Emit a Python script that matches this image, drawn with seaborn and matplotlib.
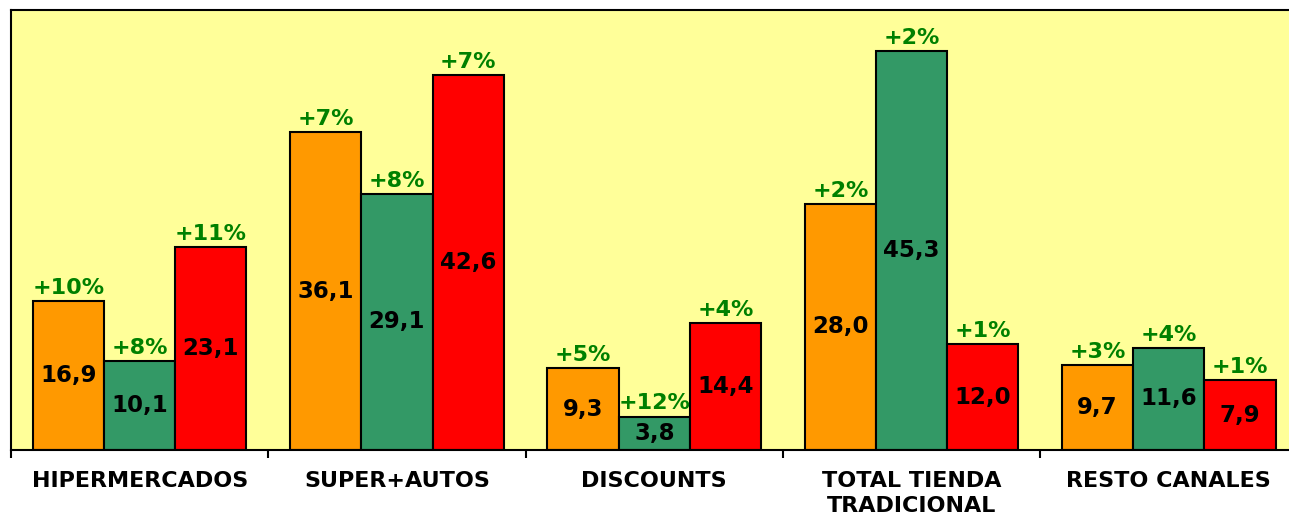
import pandas as pd
import matplotlib
matplotlib.use("Agg")
import matplotlib.pyplot as plt
import seaborn as sns

# Data
categories = ['HIPERMERCADOS', 'SUPER+AUTOS', 'DISCOUNTS', 'TOTAL TIENDA\nTRADICIONAL', 'RESTO CANALES']
series = ['Serie 1', 'Serie 2', 'Serie 3']
values_s1 = [16.9, 36.1, 9.3, 28.0, 9.7]
values_s2 = [10.1, 29.1, 3.8, 45.3, 11.6]
values_s3 = [23.1, 42.6, 14.4, 12.0, 7.9]
growth_s1 = ['+10%', '+7%', '+5%', '+2%', '+3%']
growth_s2 = ['+8%', '+8%', '+12%', '+2%', '+4%']
growth_s3 = ['+11%', '+7%', '+4%', '+1%', '+1%']

colors = ['#FF9900', '#339966', '#FF0000']

df = pd.DataFrame({
    'Canal': categories * 3,
    'Serie': [s for s in series for _ in categories],
    'Valor': values_s1 + values_s2 + values_s3,
})
growth = [growth_s1, growth_s2, growth_s3]
values = [values_s1, values_s2, values_s3]

sns.set_style('white')
plt.rcParams['font.family'] = ['DejaVu Sans']

fig = plt.figure(figsize=(12.89, 5.19), dpi=100)
W, H = 1289, 519
group_px = 257.3
ax = fig.add_axes([11 / W, (H - 450) / H, (W - 11) / W, 440 / H])
ax.set_facecolor('#FFFF99')

sns.barplot(data=df, x='Canal', y='Valor', hue='Serie', order=categories,
            hue_order=series, palette=colors, width=0.83, gap=0,
            edgecolor='black', linewidth=1.5, saturation=1, legend=False, ax=ax)

ax.set_ylim(0, 50)
ax.set_xlim(-0.5, -0.5 + (W - 11) / group_px)

# value labels inside bars, growth labels above
for i, cont in enumerate(ax.containers):
    for j, bar in enumerate(cont):
        h = bar.get_height()
        xc = bar.get_x() + bar.get_width() / 2
        ax.text(xc, h / 2, f"{values[i][j]:.1f}".replace('.', ','),
                ha='center', va='center', fontsize=16.5, fontweight='bold', color='black')
        ax.text(xc, h + 0.35, growth[i][j], ha='center', va='bottom',
                fontsize=16, fontweight='bold', color='#008000')

# axes styling
ax.set_yticks([])
ax.set_ylabel('')
ax.set_xlabel('')
for s in ['left', 'top', 'bottom']:
    ax.spines[s].set_visible(True)
    ax.spines[s].set_color('black')
    ax.spines[s].set_linewidth(1.5)
ax.spines['right'].set_visible(False)

ax.set_xticks([k - 0.5 for k in range(len(categories))])
ax.set_xticklabels([])
ax.tick_params(axis='x', which='major', direction='out', length=6, width=1.5, color='black', bottom=True)
ax.set_xticks(range(len(categories)), minor=True)
ax.set_xticklabels(categories, minor=True, fontsize=16, fontweight='bold', color='black',
                   linespacing=1.35)
ax.tick_params(axis='x', which='minor', length=0, pad=15)

fig.savefig('out.png', dpi=100, facecolor='white')
